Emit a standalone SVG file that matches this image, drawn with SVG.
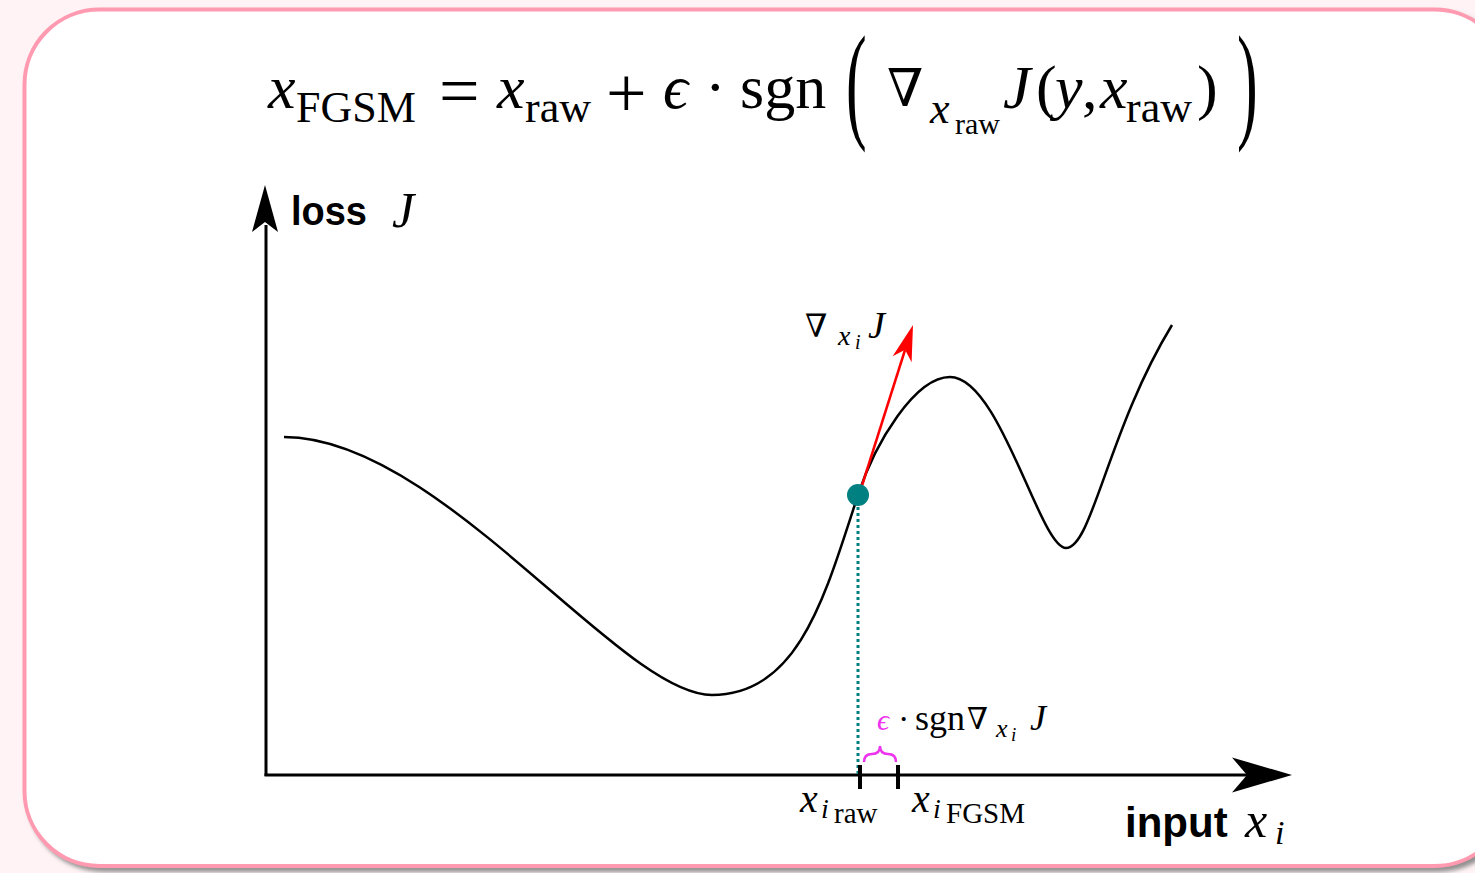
<svg xmlns="http://www.w3.org/2000/svg" width="1475" height="873" viewBox="0 0 1475 873">
<style>
.m{font-family:"Liberation Serif","DejaVu Serif",serif;fill:#000}
.i{font-style:italic}
.n{font-family:"DejaVu Serif",serif;fill:#000}
.b{font-family:"Liberation Sans",Arial,sans-serif;font-weight:bold;fill:#000}
.ax{stroke:#000;stroke-width:3;fill:none}
.curve{stroke:#000;stroke-width:2.5;fill:none}
</style>
<defs>
<filter id="sh" x="-5%" y="-5%" width="110%" height="110%">
<feDropShadow dx="4" dy="4" stdDeviation="2" flood-color="#777" flood-opacity="0.8"/>
</filter>
</defs>
<rect x="0" y="0" width="1475" height="873" fill="#fff3f5"/>
<rect id="frame" x="24.5" y="9.5" width="1485" height="856.5" rx="75" ry="75" fill="#fff" stroke="#ff9ab0" stroke-width="4" filter="url(#sh)"/>

<g id="formula">
<text class="m i" x="268" y="108" font-size="62">x</text>
<text class="m" x="296" y="122" font-size="44">FGSM</text>
<text class="m" x="439" y="115" font-size="72">=</text>
<text class="m i" x="497" y="108" font-size="62">x</text>
<text class="m" x="525" y="122" font-size="44">raw</text>
<text class="m" x="606" y="117" font-size="72">+</text>
<text class="m i" x="663" y="108" font-size="62">ϵ</text>
<text class="m" x="705" y="108" font-size="62">·</text>
<text class="m" x="740" y="108" font-size="62">sgn</text>
<text class="m" font-size="62" transform="translate(846,125) scale(1,2.1)">(</text>
<text class="n" x="887" y="106" font-size="52">∇</text>
<text class="m i" x="930" y="123" font-size="44">x</text>
<text class="m" x="955" y="134" font-size="30">raw</text>
<text class="m i" x="1003" y="108" font-size="62">J</text>
<text class="m" x="1036" y="108" font-size="62">(</text>
<text class="m i" x="1055" y="108" font-size="62">y</text>
<text class="m" x="1082" y="108" font-size="62">,</text>
<text class="m i" x="1100" y="108" font-size="62">x</text>
<text class="m" x="1126" y="122" font-size="44">raw</text>
<text class="m" x="1197" y="108" font-size="62">)</text>
<text class="m" font-size="62" transform="translate(1237,125) scale(1,2.1)">)</text>
</g>

<g id="axes">
<line class="ax" x1="266" y1="776" x2="266" y2="225"/>
<line class="ax" x1="264.5" y1="775" x2="1250" y2="775"/>
<polygon points="265,185 278,232 265,222 252,232" fill="#000"/>
<polygon points="1292,775 1232,757.5 1247,775 1232,792.5" fill="#000"/>
</g>

<g id="labels">
<text class="b" x="291" y="225" font-size="40" textLength="76" lengthAdjust="spacingAndGlyphs">loss</text>
<text class="m i" x="392" y="227" font-size="50">J</text>
<text class="b" x="1125" y="837" font-size="42">input</text>
<text class="m i" x="1245" y="837" font-size="50">x</text>
<text class="m i" x="1275" y="844" font-size="34">i</text>
</g>

<g id="loss-curve">
<path class="curve" d="M284,437 C440,437 620,695 712,695 C800,695 826,592 858,495 C875,443 915,377 950,377 C1000,377 1040,548 1066,548 C1092,548 1108,430 1172,325"/>
</g>

<g id="connectors">
<line x1="858" y1="507" x2="858" y2="774" stroke="#008080" stroke-width="3" stroke-dasharray="3,3"/>
<line x1="859" y1="495" x2="905" y2="350" stroke="#ff0000" stroke-width="2.5"/>
<polygon points="913,325 911.6,362.3 905.1,349.8 892.6,356.3" fill="#ff0000"/>
<line x1="860" y1="765" x2="860" y2="789" stroke="#000" stroke-width="4"/>
<line x1="898" y1="765" x2="898" y2="789" stroke="#000" stroke-width="4"/>
<path d="M864,762 Q864,754 872,754 Q880,754 880,746 Q880,754 888,754 Q896,754 896,762" fill="none" stroke="#ee33ee" stroke-width="2.5"/>
</g>

<g id="point">
<circle cx="858" cy="495" r="11" fill="#008080"/>
</g>

<g id="grad-label">
<text class="n" x="805" y="337" font-size="32">∇</text>
<text class="m i" x="838" y="345" font-size="28">x</text>
<text class="m i" x="855" y="349" font-size="20">i</text>
<text class="m i" x="868" y="338" font-size="38">J</text>
</g>

<g id="step-label">
<text class="m i" x="877" y="730" font-size="30" style="fill:#ee33ee">ϵ</text>
<text class="m" x="898" y="730" font-size="34">·</text>
<text class="m" x="915" y="730" font-size="36">sgn</text>
<text class="n" x="967" y="729" font-size="30">∇</text>
<text class="m i" x="996" y="737" font-size="26">x</text>
<text class="m i" x="1011" y="741" font-size="19">i</text>
<text class="m i" x="1030" y="730" font-size="36">J</text>
</g>

<g id="tick-labels">
<text class="m i" x="800" y="812" font-size="40">x</text>
<text class="m i" x="821" y="818" font-size="28">i</text>
<text class="m" x="834" y="823" font-size="29">raw</text>
<text class="m i" x="912" y="812" font-size="40">x</text>
<text class="m i" x="933" y="818" font-size="28">i</text>
<text class="m" x="946" y="823" font-size="29">FGSM</text>
</g>
</svg>
